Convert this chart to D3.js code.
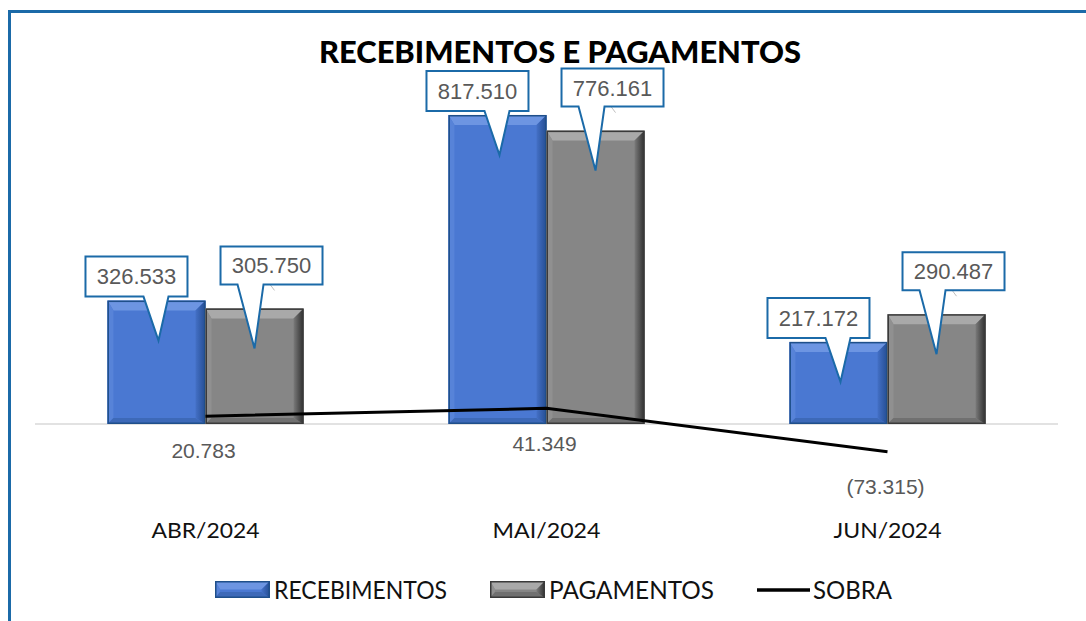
<!DOCTYPE html>
<html>
<head>
<meta charset="utf-8">
<script src="https://cdn.jsdelivr.net/npm/d3@7"></script>
<style>
  html, body { margin: 0; padding: 0; background: #fff; }
  svg { display: block; }
</style>
</head>
<body>
<svg id="chart" width="1086" height="621"></svg>
<script>
const categories = ["ABR/2024", "MAI/2024", "JUN/2024"];
const recebimentos = [326.533, 817.510, 217.172];
const pagamentos = [305.750, 776.161, 290.487];
const sobra = [20.783, 41.349, -73.315];
const seriesNames = ["RECEBIMENTOS", "PAGAMENTOS", "SOBRA"];
const title = "RECEBIMENTOS E PAGAMENTOS";

const fmt = v => {
  const s = d3.format(".3f")(Math.abs(v));
  return v < 0 ? "(" + s + ")" : s;
};

const svg = d3.select("#chart");
const W = 1086, H = 621;

// frame border
svg.append("line").attr("x1", 8).attr("x2", W).attr("y1", 11.5).attr("y2", 11.5)
  .attr("stroke", "#1b6aa8").attr("stroke-width", 3);
svg.append("line").attr("x1", 9.5).attr("x2", 9.5).attr("y1", 10).attr("y2", H)
  .attr("stroke", "#1b6aa8").attr("stroke-width", 3);

// title
svg.append("text").attr("x", 560).attr("y", 63).attr("text-anchor", "middle")
  .attr("font-family", "Lato, 'DejaVu Sans', sans-serif").attr("font-weight", 900)
  .attr("font-size", 30).attr("fill", "#000")
  .attr("textLength", 482).attr("lengthAdjust", "spacingAndGlyphs")
  .text(title);

// scales
const x0 = d3.scaleBand().domain(categories).range([35, 1058])
  .paddingInner(0.425).paddingOuter(0.2125);
const x1 = d3.scaleBand().domain([0, 1]).range([0, x0.bandwidth()]).padding(0);
const y = d3.scaleLinear().domain([-100, 900]).range([424 + 100 * 0.378, 424 - 900 * 0.378]);

// baseline gridline
svg.append("line").attr("x1", 35).attr("x2", 1058).attr("y1", y(0)).attr("y2", y(0))
  .attr("stroke", "#d9d9d9").attr("stroke-width", 1.5);

const defs = svg.append("defs");
const styles = [
  { id: "b", face: "#4a78d2", top: "#6d95e2", left: "#5783d8", r0: "#4470c6", r1: "#244d92", bottom: "#3d69b8", outline: "#1f4f8a" },
  { id: "g", face: "#868686", top: "#a9a9a9", left: "#909090", r0: "#7a7a7a", r1: "#2e2e2e", bottom: "#707070", outline: "#3a3a3a" }
];
styles.forEach(st => {
  const gr = defs.append("linearGradient").attr("id", "rg" + st.id).attr("x1", 0).attr("x2", 1).attr("y1", 0).attr("y2", 0);
  gr.append("stop").attr("offset", "0%").attr("stop-color", st.r0);
  gr.append("stop").attr("offset", "100%").attr("stop-color", st.r1);
});

function bevelBar(g, x, yTop, w, h, st) {
  const b = Math.min(10, h / 2, w / 2);
  const bb = Math.min(6, h / 2);
  const xL = x, xR = x + w, yT = yTop, yB = yTop + h;
  g.append("rect").attr("x", xL).attr("y", yT).attr("width", w).attr("height", h).attr("fill", st.face);
  const poly = (pts, fill) => g.append("polygon").attr("points", pts.map(p => p.join(",")).join(" ")).attr("fill", fill);
  poly([[xL, yT], [xR, yT], [xR - b, yT + b], [xL + b * 0.6, yT + b]], st.top);
  poly([[xL, yT], [xL + b * 0.6, yT + b], [xL + b * 0.6, yB - bb], [xL, yB]], st.left);
  poly([[xL, yB], [xR, yB], [xR - b, yB - bb], [xL + b * 0.6, yB - bb]], st.bottom);
  poly([[xR, yT], [xR, yB], [xR - b, yB - bb], [xR - b, yT + b]], `url(#rg${st.id})`);
  g.append("rect").attr("x", xL + 0.75).attr("y", yT + 0.75).attr("width", w - 1.5).attr("height", h - 1.5)
    .attr("fill", "none").attr("stroke", st.outline).attr("stroke-width", 1.5);
}

const barData = categories.map((c, i) => [recebimentos[i], pagamentos[i]]);
const gBars = svg.append("g");
categories.forEach((c, i) => {
  barData[i].forEach((v, s) => {
    const bx = x0(c) + x1(s);
    const bw = x1.bandwidth();
    bevelBar(gBars, bx, y(v), bw, y(0) - y(v), styles[s]);
  });
});

// SOBRA line
const line = d3.line().x((d, i) => x0(categories[i]) + x0.bandwidth() / 2).y(d => y(d));
svg.append("path").datum(sobra).attr("d", line).attr("fill", "none")
  .attr("stroke", "#000").attr("stroke-width", 3);

// SOBRA labels
svg.append("g").selectAll("text").data(sobra).join("text")
  .attr("x", (d, i) => x0(categories[i]) + x0.bandwidth() / 2 - 2)
  .attr("y", d => y(d) + 35).attr("dy", "0.35em").attr("text-anchor", "middle")
  .attr("font-family", "'Liberation Sans', Arial, sans-serif").attr("font-size", 21)
  .attr("fill", "#595959").text(d => fmt(d));

// callouts
const gCall = svg.append("g");
categories.forEach((c, i) => {
  barData[i].forEach((v, s) => {
    const cx = x0(c) + x1(s) + x1.bandwidth() / 2;
    const top = y(v);
    const bw = 102, bh = s === 0 ? 40 : 38;
    const bx = s === 0 ? cx - 20 - bw / 2 : cx + 17 - bw / 2;
    const bBot = s === 0 ? top - 4 : top - 24;
    const bTop = bBot - bh;
    const tipX = s === 0 ? cx + 2 : cx;
    const tipY = top + 40;
    const p0 = s === 0 ? bx + 58 : bx + 17;
    const p1 = s === 0 ? bx + 83 : bx + 43;
    const d = `M${bx},${bTop} L${bx + bw},${bTop} L${bx + bw},${bBot} L${p1},${bBot} L${tipX},${tipY} L${p0},${bBot} L${bx},${bBot} Z`;
    if (s === 1) {
      gCall.append("line").attr("x1", bx + 48).attr("y1", bBot - 2).attr("x2", bx + 54).attr("y2", bBot + 6)
        .attr("stroke", "#bfbfbf").attr("stroke-width", 1);
    }
    gCall.append("path").attr("d", d).attr("fill", "#fff").attr("stroke", "#1b6aa8").attr("stroke-width", 2)
      .attr("stroke-linejoin", "miter");
    gCall.append("text").attr("x", bx + bw / 2).attr("y", bTop + bh / 2).attr("dy", "0.36em")
      .attr("text-anchor", "middle").attr("font-family", "'Liberation Sans', Arial, sans-serif")
      .attr("font-size", 22).attr("fill", "#595959").text(fmt(v));
  });
});

// category axis labels
svg.append("g").selectAll("text").data(categories).join("text")
  .attr("x", d => x0(d) + x0.bandwidth() / 2).attr("y", 530).attr("dy", "0.35em")
  .attr("text-anchor", "middle").attr("font-family", "Lato, 'DejaVu Sans', sans-serif")
  .attr("font-weight", 400)
  .attr("font-size", 22).attr("fill", "#111")
  .attr("textLength", 108).attr("lengthAdjust", "spacingAndGlyphs")
  .text(d => d);

// legend
const legend = svg.append("g");
const legItems = [
  { name: seriesNames[0], sx: 215, tx: 274, tw: 173, type: "bar", st: styles[0] },
  { name: seriesNames[1], sx: 490, tx: 549, tw: 165, type: "bar", st: styles[1] },
  { name: seriesNames[2], sx: 757, tx: 813, tw: 79, type: "line" }
];
legItems.forEach(it => {
  if (it.type === "bar") {
    bevelBar(legend, it.sx, 581, 55, 17, it.st);
  } else {
    legend.append("line").attr("x1", it.sx).attr("x2", it.sx + 53).attr("y1", 590).attr("y2", 590)
      .attr("stroke", "#000").attr("stroke-width", 3.5);
  }
  legend.append("text").attr("x", it.tx).attr("y", 590).attr("dy", "0.36em")
    .attr("font-family", "Lato, 'DejaVu Sans', sans-serif").attr("font-weight", 400).attr("font-size", 25)
    .attr("fill", "#111").attr("textLength", it.tw).attr("lengthAdjust", "spacingAndGlyphs")
    .text(it.name);
});
</script>
</body>
</html>
